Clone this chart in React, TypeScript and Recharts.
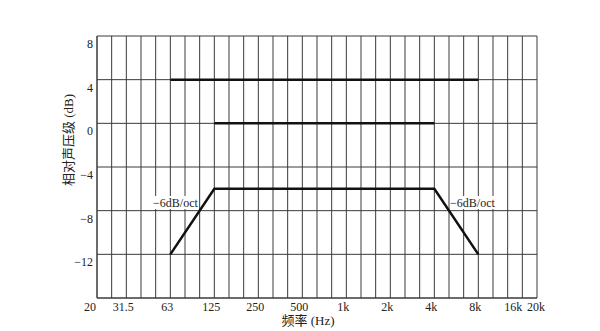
import React from 'react';
import { LineChart, Line, XAxis, YAxis, CartesianGrid, ReferenceDot } from 'recharts';

// Third-octave band centre frequencies (Hz), used as the x categories
const bands = ['20','25','31.5','40','50','63','80','100','125','160','200','250','315','400','500','630','800','1k','1.25k','1.6k','2k','2.5k','3.15k','4k','5k','6.3k','8k','10k','12.5k','16k','20k'];
const labeledBands = ['20','31.5','63','125','250','500','1k','2k','4k','8k','16k','20k'];
const yTicks = [8, 4, 0, -4, -8, -12];

// Upper limit line (+4 dB)
const upperBands = ['63', '8k'];
const upperDb = [4, 4];
// Reference line (0 dB)
const refBands = ['125', '4k'];
const refDb = [0, 0];
// Lower limit (-6 dB flat, -6 dB/oct slopes)
const lowerBands = ['63', '125', '4k', '8k'];
const lowerDb = [-12, -6, -6, -12];

// Annotations (band index, dB)
const noteX = [5.35, 25.6];
const noteY = [-7.3, -7.3];
const noteText = ['−6dB/oct', '−6dB/oct'];

const toRows = (b: string[], d: number[]) => b.map((band, i) => ({ x: bands.indexOf(band), db: d[i] }));
const upperData = toRows(upperBands, upperDb);
const refData = toRows(refBands, refDb);
const lowerData = toRows(lowerBands, lowerDb);

const FONT = "'Liberation Serif', 'Noto Sans CJK SC', serif";
const fmtNum = (v: number) => (v < 0 ? '−' + Math.abs(v) : String(v));

const xShift: Record<string, number> = { '20': -7, '16k': -9, '20k': -1 };

const XTick = (props: any) => {
  const { x, y, payload } = props;
  const label = bands[payload.value];
  if (!labeledBands.includes(label)) return null;
  const dx = xShift[label] ?? -3;
  return (
    <text x={x + dx} y={y + 12.5} textAnchor="middle" fontFamily={FONT} fontSize={12} fill="#222">
      {label}
    </text>
  );
};

const YTick = (props: any) => {
  const { x, y, payload } = props;
  return (
    <text x={x} y={y + 12} textAnchor="end" fontFamily={FONT} fontSize={12} fill="#222">
      {fmtNum(payload.value)}
    </text>
  );
};

const NoteLabel = (text: string) => (props: any) => {
  const { viewBox } = props;
  const cx = viewBox.x + (viewBox.width || 0) / 2;
  const cy = viewBox.y + (viewBox.height || 0) / 2;
  return (
    <g>
      <rect x={cx - 22} y={cy - 7} width={44} height={13} fill="#fff" />
      <text x={cx} y={cy + 4} textAnchor="middle" fontFamily={FONT} fontSize={12} fill="#222">
        {text}
      </text>
    </g>
  );
};

export default function App() {
  const xTicks = bands.map((_, i) => i);
  return (
    <div style={{ position: 'absolute', left: 0, top: 0, background: '#fff' }}>
      <LineChart width={600} height={331} margin={{ top: 36, right: 63, bottom: 0, left: 0 }}>
        <CartesianGrid stroke="#3a3a3a" strokeWidth={1} />
        <XAxis
          type="number"
          dataKey="x"
          domain={[0, 30]}
          ticks={xTicks}
          interval={0}
          tickLine={false}
          tickSize={0}
          tickMargin={0}
          height={33}
          axisLine={{ stroke: '#3a3a3a' }}
          tick={<XTick />}
          allowDataOverflow
          label={{
            content: () => (
              <text x={308} y={324.5} textAnchor="middle" fontFamily={FONT} fontSize={13} fill="#222">
                频率 (Hz)
              </text>
            ),
          }}
        />
        <YAxis
          type="number"
          dataKey="db"
          domain={[-16, 8]}
          ticks={yTicks}
          interval={0}
          tickLine={false}
          tickSize={0}
          tickMargin={4}
          width={97}
          axisLine={{ stroke: '#3a3a3a' }}
          tick={<YTick />}
          allowDataOverflow
          label={{
            content: () => (
              <text
                x={68}
                y={140}
                transform="rotate(-90, 68, 140)"
                textAnchor="middle"
                dominantBaseline="central"
                fontFamily={FONT}
                fontSize={13}
                fill="#222"
              >
                相对声压级 (dB)
              </text>
            ),
          }}
        />
        {noteX.map((nx, i) => (
          <ReferenceDot
            key={i}
            x={nx}
            y={noteY[i]}
            r={0}
            fill="none"
            stroke="none"
            label={{ content: NoteLabel(noteText[i]) }}
          />
        ))}
        <Line data={upperData} dataKey="db" stroke="#111" strokeWidth={2.5} dot={false} isAnimationActive={false} />
        <Line data={refData} dataKey="db" stroke="#111" strokeWidth={2.5} dot={false} isAnimationActive={false} />
        <Line data={lowerData} dataKey="db" stroke="#111" strokeWidth={2.5} dot={false} isAnimationActive={false} />
      </LineChart>
    </div>
  );
}
